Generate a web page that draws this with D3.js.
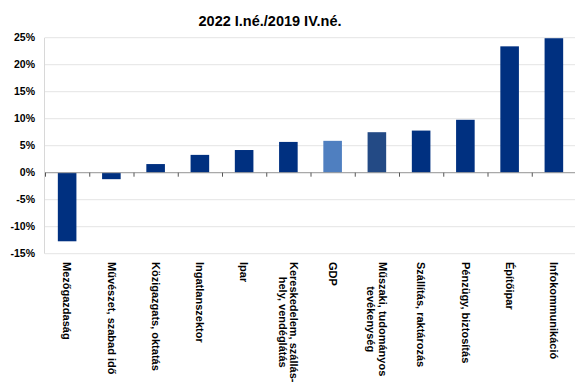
<!DOCTYPE html>
<html><head><meta charset="utf-8">
<script src="https://cdn.jsdelivr.net/npm/d3@7"></script>
<style>body{margin:0;background:#fff}svg{display:block}</style>
</head><body>
<script>
const title = "2022 I.né./2019 IV.né.";
const categories = [
  ["Mezőgazdaság"],
  ["Művészet, szabad idő"],
  ["Közigazgats, oktatás"],
  ["Ingatlanszektor"],
  ["Ipar"],
  ["Kereskedelem, szállás-", "hely, vendéglátás"],
  ["GDP"],
  ["Műszaki, tudományos", "tevékenység"],
  ["Szállítás, raktározás"],
  ["Pénzügy, biztosítás"],
  ["Építőipar"],
  ["Infokommunikáció"]
];
const values = [-12.7, -1.2, 1.6, 3.3, 4.2, 5.7, 5.9, 7.5, 7.8, 9.8, 23.4, 24.9];
const colors = ["#003080","#003080","#003080","#003080","#003080","#003080","#4f7fc0","#234a85","#003080","#003080","#003080","#003080"];
const yTicks = [-15, -10, -5, 0, 5, 10, 15, 20, 25];

const W = 575, H = 383;
const svg = d3.select("body").append("svg").attr("width", W).attr("height", H);
const font = "Liberation Sans, Arial, sans-serif";

const x = d3.scaleBand().domain(d3.range(categories.length)).range([45, 576]).padding(0);
const y = d3.scaleLinear().domain([-15, 25]).range([253.7, 37.7]);

// title
svg.append("text").attr("x", 270).attr("y", 26).attr("text-anchor", "middle")
  .attr("font-family", font).attr("font-weight", "bold").attr("font-size", 14.5)
  .attr("fill", "#000").text(title);

// gridlines
svg.append("g").selectAll("line").data(yTicks).join("line")
  .attr("x1", 45).attr("x2", 576).attr("y1", d => y(d)).attr("y2", d => y(d))
  .attr("stroke", "#e4e4e4").attr("stroke-width", 1);

// frame left
svg.append("line").attr("x1", 44.5).attr("x2", 44.5).attr("y1", y(25)).attr("y2", y(-15))
  .attr("stroke", "#d8d8d8");

// y axis labels
svg.append("g").selectAll("text").data(yTicks).join("text")
  .attr("x", 35).attr("y", d => y(d)).attr("dy", "0.35em").attr("text-anchor", "end")
  .attr("font-family", font).attr("font-weight", "bold").attr("font-size", 10.5)
  .attr("fill", "#000").text(d => d + "%");

// bars
const bw = x.bandwidth() * 0.42;
svg.append("g").selectAll("rect").data(values).join("rect")
  .attr("x", (d, i) => x(i) + x.bandwidth() / 2 - bw / 2)
  .attr("y", d => y(Math.max(0, d)))
  .attr("width", bw)
  .attr("height", d => Math.abs(y(d) - y(0)))
  .attr("fill", (d, i) => colors[i]);

// zero line with ticks
svg.append("line").attr("x1", 45).attr("x2", 576).attr("y1", y(0)).attr("y2", y(0))
  .attr("stroke", "#9a9a9a").attr("stroke-width", 1);
svg.append("g").selectAll("line").data(d3.range(categories.length)).join("line")
  .attr("x1", i => x(i) + 0.5).attr("x2", i => x(i) + 0.5)
  .attr("y1", y(0)).attr("y2", y(0) + 4)
  .attr("stroke", "#555").attr("stroke-width", 1);

// x labels (rotated)
const lab = svg.append("g");
categories.forEach((lines, i) => {
  const cx = x(i) + x.bandwidth() / 2;
  const lh = 11.5;
  const n = lines.length;
  const g = lab.append("g").attr("transform", `translate(${cx},262) rotate(90)`);
  const t = g.append("text").attr("font-family", font).attr("font-weight", "bold")
    .attr("font-size", 11).attr("fill", "#000");
  lines.forEach((ln, j) => {
    t.append("tspan").attr("x", 0).attr("y", (j - (n - 1) / 2) * lh).attr("dy", "0.35em").text(ln);
  });
  if (n > 1) {
    const tsp = t.selectAll("tspan").nodes();
    const widths = tsp.map(s => s.getComputedTextLength());
    const mw = Math.max(...widths);
    tsp.forEach((s, j) => d3.select(s).attr("x", (mw - widths[j]) / 2));
  }
});
</script>
</body></html>
